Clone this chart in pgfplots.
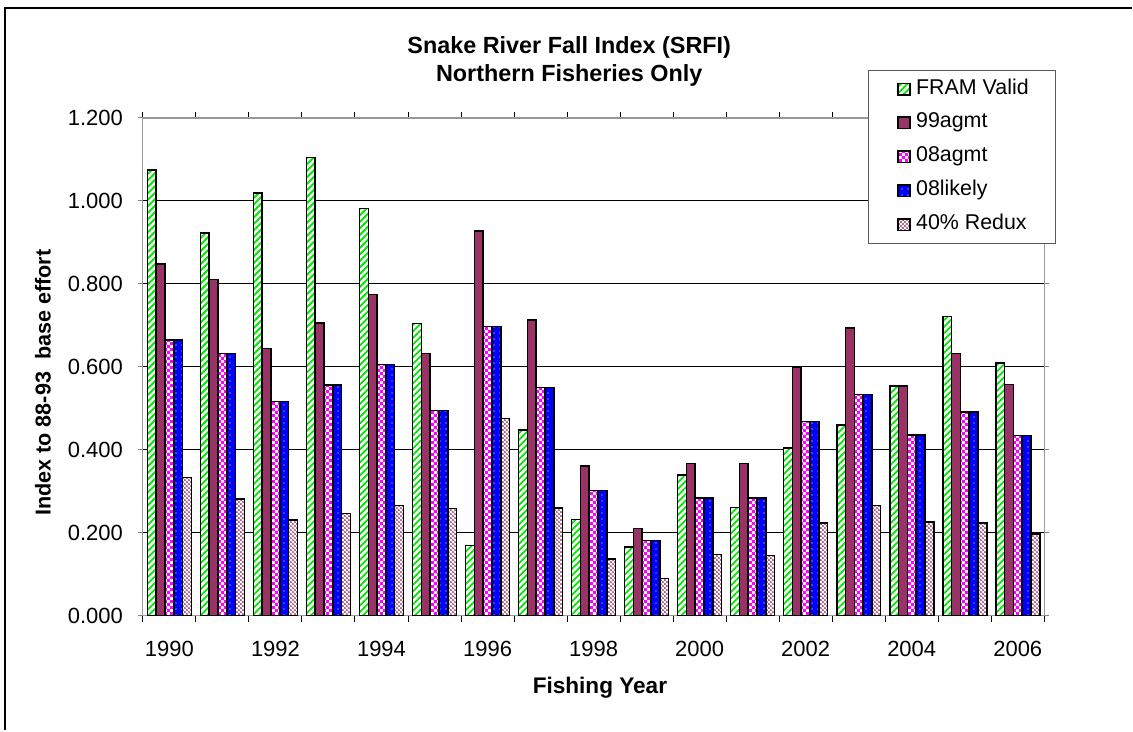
\documentclass[border=0pt]{standalone}
\usepackage{fontspec}
\setmainfont{Liberation Sans}
\usepackage{pgfplots}
\usepackage{pgfplotstable}
\pgfplotsset{compat=1.18}
\usetikzlibrary{patterns,patterns.meta}

\definecolor{fgreen}{RGB}{0,230,0}
\definecolor{maroon}{RGB}{153,51,102}
\definecolor{fmag}{RGB}{255,0,255}
\definecolor{fblue}{RGB}{0,0,255}

\pgfdeclarepatternformonly{smallcheck}{\pgfpointorigin}{\pgfqpoint{3pt}{3pt}}{\pgfqpoint{3pt}{3pt}}{%
  \pgfpathrectangle{\pgfpointorigin}{\pgfqpoint{1.5pt}{1.5pt}}%
  \pgfpathrectangle{\pgfqpoint{1.5pt}{1.5pt}}{\pgfqpoint{1.5pt}{1.5pt}}%
  \pgfusepath{fill}}
\pgfdeclarepatternformonly{speckle}{\pgfpointorigin}{\pgfqpoint{2.2pt}{2.2pt}}{\pgfqpoint{2.2pt}{2.2pt}}{%
  \pgfpathcircle{\pgfqpoint{0.55pt}{0.55pt}}{0.6pt}%
  \pgfpathcircle{\pgfqpoint{1.65pt}{1.65pt}}{0.6pt}%
  \pgfusepath{fill}}
\pgfdeclarepatternformonly{bluedots}{\pgfpointorigin}{\pgfqpoint{3pt}{3pt}}{\pgfqpoint{3pt}{3pt}}{%
  \pgfpathcircle{\pgfqpoint{1.5pt}{1.5pt}}{0.35pt}%
  \pgfusepath{fill}}

\pgfplotstableread{
x fram a99 a08 l08 redux
0  1.075 0.847 0.665 0.665 0.333
1  0.922 0.810 0.632 0.632 0.281
2  1.019 0.644 0.516 0.516 0.230
3  1.105 0.705 0.556 0.556 0.246
4  0.982 0.774 0.605 0.605 0.265
5  0.704 0.632 0.494 0.494 0.258
6  0.169 0.928 0.697 0.697 0.475
7  0.448 0.712 0.550 0.550 0.259
8  0.232 0.361 0.302 0.302 0.137
9  0.165 0.210 0.181 0.181 0.089
10 0.339 0.367 0.283 0.283 0.147
11 0.261 0.367 0.283 0.283 0.145
12 0.404 0.598 0.468 0.468 0.223
13 0.460 0.693 0.533 0.533 0.265
14 0.554 0.554 0.436 0.436 0.226
15 0.721 0.632 0.491 0.491 0.223
16 0.609 0.557 0.434 0.434 0.197
}\datatable

\pgfplotsset{
  boxlegend/.style={legend image code/.code={%
    \pgfpathmoveto{\pgfqpoint{0pt}{0pt}}%
    \pgfpathlineto{\pgfqpoint{10.5pt}{0pt}}%
    \pgfusepath{discard}%
    \draw[##1,draw=black,line width=0.7pt] (2.5pt,-2.9pt) rectangle (8.5pt,2.9pt);}},
}

\begin{document}
\begin{tikzpicture}
\begin{axis}[
  scale only axis,
  width=451pt, height=249pt,
  ybar=0pt, bar width=4.4pt,
  xmin=-0.5, xmax=16.5, ymin=0, ymax=1.2,
  xtick={0,2,...,16},
  xticklabels={1990,1992,1994,1996,1998,2000,2002,2004,2006},
  major x tick style={draw=none},
  minor xtick={-0.5,0.5,...,16.5},
  minor x tick style={black, line width=0.5pt},
  minor tick length=3pt,
  ytick={0,0.2,0.4,0.6,0.8,1.0,1.2},
  major tick length=2.5pt,
  tick align=outside,
  y tick style={gray, line width=0.5pt},
  ymajorgrids,
  grid style={black, line width=0.5pt},
  axis line style={gray!80, line width=0.6pt},
  tick label style={font=\fontsize{11}{12}\selectfont},
  scaled y ticks=false,
  yticklabel style={xshift=-4pt, /pgf/number format/.cd, fixed, fixed zerofill, precision=3, assume math mode=true},
  xticklabel style={yshift=-7pt},
  title={Snake River Fall Index (SRFI)\\Northern Fisheries Only},
  title style={font=\bfseries\fontsize{11.7}{14}\selectfont, align=center,
    at={(axis description cs:0.473,1)}, anchor=north, yshift=38pt},
  xlabel={Fishing Year},
  xlabel style={font=\bfseries\fontsize{11.3}{12}\selectfont,
    at={(axis description cs:0.507,0)}, anchor=center, yshift=-36pt},
  ylabel={Index to 88-93\ \ base effort},
  ylabel style={font=\bfseries\fontsize{10.8}{12}\selectfont,
    at={(axis description cs:-0.1109,0.468)}, anchor=center},
  legend style={at={(axis description cs:0.804,1.0964)}, anchor=north west,
    draw=gray!70!black, line width=0.6pt, fill=white,
    font=\fontsize{10.7}{12}\selectfont,
    inner xsep=12.5pt, inner ysep=3.25pt, row sep=5pt,
    nodes={inner sep=1pt, text height=7.5pt, text depth=2.5pt}},
  legend cell align=left,
]
\addplot[boxlegend, draw=black, line width=0.8pt, fill=white,
  postaction={pattern={Lines[angle=45,distance=2.3pt,line width=0.9pt]}, pattern color=fgreen}]
  table[x=x,y=fram]{\datatable};
\addlegendentry{FRAM Valid}
\addplot[boxlegend, draw=black, line width=0.8pt, fill=maroon]
  table[x=x,y=a99]{\datatable};
\addlegendentry{99agmt}
\addplot[boxlegend, draw=black, line width=0.8pt, fill=white,
  postaction={pattern=smallcheck, pattern color=fmag}]
  table[x=x,y=a08]{\datatable};
\addlegendentry{08agmt}
\addplot[boxlegend, draw=black, line width=0.8pt, fill=fblue,
  postaction={pattern=bluedots, pattern color=white}]
  table[x=x,y=l08]{\datatable};
\addlegendentry{08likely}
\addplot[boxlegend, draw=black, line width=0.8pt, fill=white,
  postaction={pattern=speckle, pattern color=maroon}]
  table[x=x,y=redux]{\datatable};
\addlegendentry{40\% Redux}
\coordinate (LL) at (rel axis cs:0,0);
\coordinate (UR) at (rel axis cs:1,1);
\end{axis}
\draw[black, line width=0.8pt] ([shift={(-69pt,-57.5pt)}]LL) |- ([shift={(44pt,55pt)}]UR);
\path ([shift={(-71.5pt,-57.5pt)}]LL) rectangle ([shift={(44pt,59pt)}]UR);
\end{tikzpicture}
\end{document}
